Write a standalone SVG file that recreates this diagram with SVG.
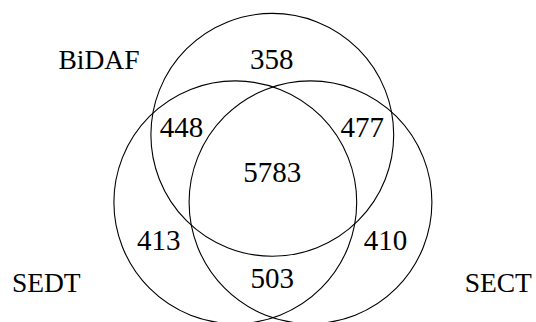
<svg xmlns="http://www.w3.org/2000/svg" width="536" height="322" viewBox="0 0 536 322">
<style>
.c{fill:none;stroke:#000;stroke-width:1.1}
text{font-family:'Liberation Serif','Times New Roman',serif;text-anchor:middle;fill:#000}
.n{font-size:29px}
.l{font-size:27.5px}
</style>
<rect width="536" height="322" fill="#fff"/>
<g id="BiDAF">
<circle class="c" cx="272.3" cy="134.8" r="121.4"/>
<text class="l" x="99" y="69">BiDAF</text>
</g>
<g id="SEDT">
<circle class="c" cx="235.3" cy="202.3" r="121.4"/>
<text class="l" x="46.3" y="292">SEDT</text>
</g>
<g id="SECT">
<circle class="c" cx="310.5" cy="202.3" r="121.4"/>
<text class="l" x="498.3" y="292">SECT</text>
</g>
<g id="regions">
<text class="n" x="271.7" y="69.3">358</text>
<text class="n" x="181.5" y="137">448</text>
<text class="n" x="362.3" y="137">477</text>
<text class="n" x="272.2" y="181.8">5783</text>
<text class="n" x="158.7" y="250.3">413</text>
<text class="n" x="385.5" y="250.3">410</text>
<text class="n" x="272.3" y="288">503</text>
</g>
<g id="connectors"></g>
</svg>
